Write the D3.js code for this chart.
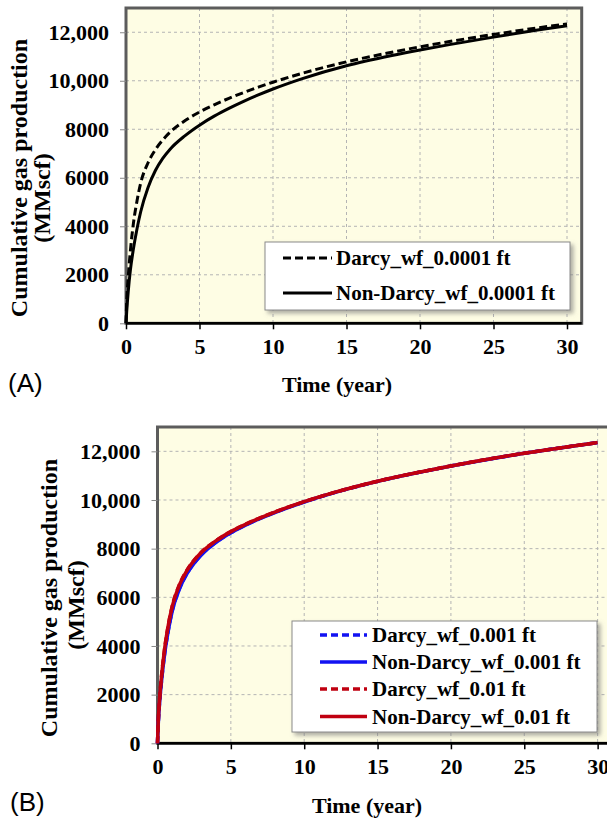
<!DOCTYPE html>
<html>
<head>
<meta charset="utf-8">
<script src="https://cdn.jsdelivr.net/npm/d3@7"></script>
<style>
  body { margin: 0; background: #fff; }
  svg { display: block; }
  text { font-family: "Liberation Serif", "Times New Roman", serif; font-weight: bold; fill: #000; }
</style>
</head>
<body>
<script>
// time axis (years), shared by every series
const years = [0, 0.05, 0.15, 0.3, 0.5, 0.75, 1, 1.5, 2, 2.5, 3, 4, 5, 6, 7, 8, 9, 10, 12, 15, 18, 20, 22, 25, 28, 30];

// panel A (MMscf)
const darcy0001 = [0, 900, 1900, 3000, 4100, 5050, 5780, 6620, 7160, 7560, 7880, 8350, 8710, 9010, 9275, 9515, 9735, 9940, 10310, 10780, 11165, 11400, 11615, 11910, 12180, 12345];
const nonDarcy0001 = [0, 500, 1300, 2200, 3050, 3900, 4600, 5600, 6300, 6800, 7180, 7730, 8170, 8540, 8860, 9150, 9415, 9660, 10090, 10620, 11030, 11270, 11490, 11800, 12090, 12270];

// panel B (MMscf)
const darcy001 = [0, 800, 1740, 2720, 3750, 4700, 5440, 6370, 6975, 7410, 7760, 8270, 8655, 8970, 9245, 9490, 9715, 9922, 10295, 10766, 11158, 11397, 11617, 11918, 12188, 12358];
const nonDarcy001 = [0, 780, 1720, 2700, 3730, 4680, 5420, 6350, 6960, 7400, 7750, 8260, 8650, 8965, 9240, 9485, 9710, 9918, 10292, 10764, 11156, 11396, 11616, 11917, 12187, 12357];
const darcy01 = [0, 900, 1900, 2920, 3960, 4910, 5630, 6530, 7110, 7530, 7860, 8335, 8705, 9005, 9268, 9508, 9728, 9932, 10302, 10771, 11161, 11400, 11620, 11920, 12190, 12360];
const nonDarcy01 = [0, 890, 1890, 2900, 3950, 4900, 5620, 6520, 7100, 7520, 7850, 8330, 8700, 9000, 9265, 9505, 9725, 9930, 10300, 10770, 11160, 11400, 11620, 11920, 12190, 12360];

const xTicks = [0, 5, 10, 15, 20, 25, 30];
const yTicks = [0, 2000, 4000, 6000, 8000, 10000, 12000];

const seriesA = [
  { name: "Darcy_wf_0.0001 ft", values: darcy0001, color: "#000", dash: "8,4", width: 3 },
  { name: "Non-Darcy_wf_0.0001 ft", values: nonDarcy0001, color: "#000", dash: null, width: 3 }
];
const seriesB = [
  { name: "Darcy_wf_0.001 ft", values: darcy001, color: "#1212f2", dash: "7,4", width: 3.5 },
  { name: "Non-Darcy_wf_0.001 ft", values: nonDarcy001, color: "#1212f2", dash: null, width: 3.5 },
  { name: "Darcy_wf_0.01 ft", values: darcy01, color: "#c00010", dash: "7,4", width: 3.5 },
  { name: "Non-Darcy_wf_0.01 ft", values: nonDarcy01, color: "#c00010", dash: null, width: 3.5 }
];

const width = 607, height = 818;
const svg = d3.select("body").append("svg")
  .attr("width", width)
  .attr("height", height);

// shadow for the legend boxes
svg.append("defs").append("filter")
  .attr("id", "shadow")
  .attr("x", "-10%").attr("y", "-10%").attr("width", "130%").attr("height", "140%")
  .append("feDropShadow")
  .attr("dx", 3).attr("dy", 3).attr("stdDeviation", 2)
  .attr("flood-color", "#777").attr("flood-opacity", 0.6);

const fmtY = v => v >= 10000 ? d3.format(",")(v) : String(v);

function drawPanel(series, cfg) {
  const g = svg.append("g");

  const x = d3.scaleLinear().domain([0, 31]).range([cfg.left, cfg.right]);
  const y = d3.scaleLinear().domain([0, 13000]).range([cfg.bottom, cfg.top]);

  // plot background
  g.append("rect")
    .attr("x", cfg.left).attr("y", cfg.top)
    .attr("width", cfg.right - cfg.left).attr("height", cfg.bottom - cfg.top)
    .attr("fill", "#fefde4");

  // dashed grid
  g.append("g").selectAll("line")
    .data(yTicks.filter(d => d > 0))
    .join("line")
    .attr("x1", cfg.left).attr("x2", cfg.right)
    .attr("y1", d => y(d)).attr("y2", d => y(d))
    .attr("stroke", "#b4b4b4").attr("stroke-width", 1).attr("stroke-dasharray", "3,3");
  g.append("g").selectAll("line")
    .data(xTicks.filter(d => d > 0))
    .join("line")
    .attr("x1", d => x(d)).attr("x2", d => x(d))
    .attr("y1", cfg.top).attr("y2", cfg.bottom)
    .attr("stroke", "#b4b4b4").attr("stroke-width", 1).attr("stroke-dasharray", "3,3");

  // frame
  g.append("rect")
    .attr("x", cfg.left).attr("y", cfg.top)
    .attr("width", cfg.right - cfg.left).attr("height", cfg.bottom - cfg.top)
    .attr("fill", "none").attr("stroke", "#5c5c5c").attr("stroke-width", 3);

  // y axis
  const yAxis = g.append("g")
    .attr("transform", `translate(${cfg.left},0)`)
    .call(d3.axisLeft(y).tickValues(yTicks).tickFormat(fmtY).tickSize(6).tickPadding(11));
  yAxis.select(".domain").remove();
  yAxis.selectAll(".tick line").attr("stroke", "#888");
  yAxis.selectAll(".tick text")
    .style("font-size", "22px")
    .style("font-family", "Liberation Serif, serif")
    .style("font-weight", "bold");

  // x axis
  const xAxis = g.append("g")
    .attr("transform", `translate(0,${cfg.bottom})`)
    .call(d3.axisBottom(x).tickValues(xTicks).tickSize(6).tickPadding(9));
  xAxis.select(".domain")
    .attr("d", `M${cfg.left},0H${cfg.right}`)
    .attr("stroke", "#000").attr("stroke-width", 2.5);
  xAxis.selectAll(".tick line").attr("stroke", "#000").attr("stroke-width", 1.5);
  xAxis.selectAll(".tick text")
    .style("font-size", "22px")
    .style("font-family", "Liberation Serif, serif")
    .style("font-weight", "bold");

  // curves
  const line = d3.line()
    .x((d, i) => x(years[i]))
    .y(d => y(d))
    .curve(d3.curveMonotoneX);
  g.append("g").selectAll("path")
    .data(series)
    .join("path")
    .attr("d", d => line(d.values))
    .attr("fill", "none")
    .attr("stroke", d => d.color)
    .attr("stroke-width", d => d.width)
    .attr("stroke-dasharray", d => d.dash)
    .attr("stroke-linejoin", "round");

  // legend
  const lg = cfg.legend;
  g.append("rect")
    .attr("x", lg.x).attr("y", lg.y)
    .attr("width", lg.w).attr("height", lg.h)
    .attr("fill", "#fff").attr("stroke", "#8a8a8a").attr("stroke-width", 1)
    .attr("filter", "url(#shadow)");
  const rows = g.append("g").selectAll("g")
    .data(series)
    .join("g")
    .attr("transform", (d, i) => `translate(0,${lg.rows[i]})`);
  rows.append("line")
    .attr("x1", lg.lineX[0]).attr("x2", lg.lineX[1])
    .attr("stroke", d => d.color)
    .attr("stroke-width", d => d.width)
    .attr("stroke-dasharray", d => d.dash);
  rows.append("text")
    .attr("x", lg.textX).attr("y", 7)
    .style("font-size", "21px")
    .text(d => d.name);

  // axis titles
  g.append("text")
    .attr("transform", `translate(${cfg.yTitle1[0]},${cfg.yTitle1[1]}) rotate(-90)`)
    .attr("text-anchor", "middle")
    .style("font-size", "24px")
    .text("Cumulative gas production");
  g.append("text")
    .attr("transform", `translate(${cfg.yTitle2[0]},${cfg.yTitle2[1]}) rotate(-90)`)
    .attr("text-anchor", "middle")
    .style("font-size", "24px")
    .text("(MMscf)");
  g.append("text")
    .attr("x", cfg.xTitle[0]).attr("y", cfg.xTitle[1])
    .attr("text-anchor", "middle")
    .style("font-size", "22px")
    .text("Time (year)");

  // panel tag
  g.append("text")
    .attr("x", cfg.tag[0]).attr("y", cfg.tag[1])
    .style("font-family", "Liberation Sans, Arial, sans-serif")
    .style("font-weight", "normal")
    .style("font-size", "26px")
    .text(cfg.tagText);
}

drawPanel(seriesA, {
  left: 126, right: 581.7, top: 8, bottom: 323.3,
  legend: { x: 265, y: 242, w: 305, h: 68, rows: [258, 293], lineX: [283, 332], textX: 336 },
  yTitle1: [27, 178], yTitle2: [50, 198],
  xTitle: [337, 392],
  tag: [8, 392], tagText: "(A)"
});

drawPanel(seriesB, {
  left: 157.5, right: 612.3, top: 427, bottom: 743.3,
  legend: { x: 292, y: 621, w: 305, h: 111, rows: [635, 662, 689, 716.5], lineX: [320, 367], textX: 372 },
  yTitle1: [57, 598], yTitle2: [84, 605],
  xTitle: [367, 813],
  tag: [10, 811], tagText: "(B)"
});
</script>
</body>
</html>
